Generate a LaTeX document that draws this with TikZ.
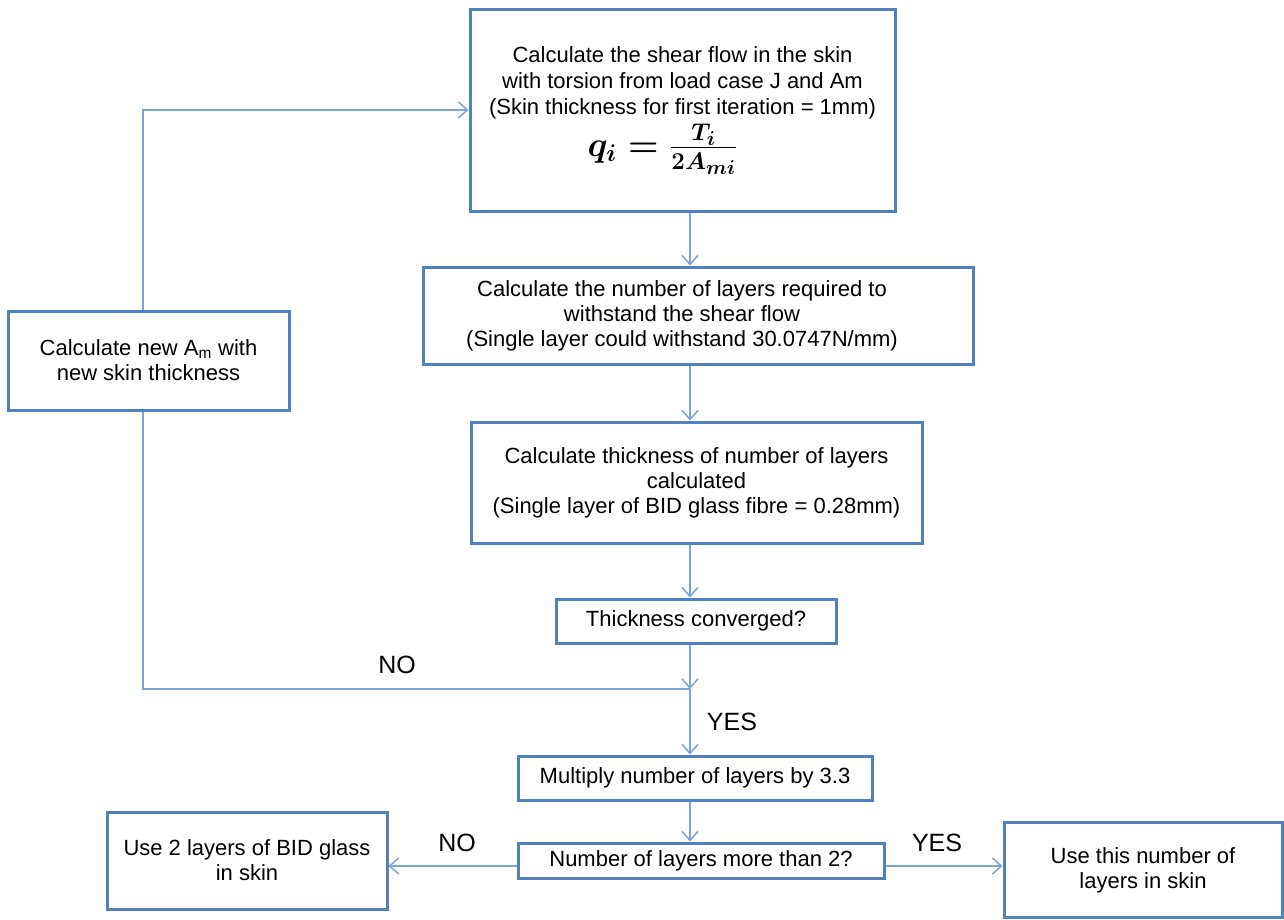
\documentclass[tikz,border=0pt]{standalone}
\usepackage{graphicx}
\usepackage{fontspec}
\setmainfont{Liberation Sans}
\usepackage{amsmath}
\usetikzlibrary{arrows.meta}
\definecolor{boxblue}{RGB}{79,129,189}
\definecolor{lineblue}{RGB}{125,162,214}
\newcommand{\qformula}{{\fontsize{27}{30}\selectfont\scalebox{1.4}{\mathversion{bold}$q_i = \frac{T_i}{2A_{mi}}$}}}
\newcommand{\sh}{\hspace*{-32pt}}
\tikzset{
  box/.style={draw=boxblue, line width=3pt, fill=white, align=center, inner sep=0pt,
    font=\fontsize{22}{25}\selectfont},
  conn/.style={draw=lineblue, line width=1.5pt},
  arr/.style={conn, -{Straight Barb[length=9pt,width=16pt,line width=1.5pt]}},
  lab/.style={font=\fontsize{25}{28}\selectfont, inner sep=0pt}
}
\begin{document}
\begin{tikzpicture}[x=1pt,y=-1pt]
\useasboundingbox (0,0) rectangle (1284,920);
% boxes
\node[box, minimum width=425, minimum height=201, font=\fontsize{22}{26}\selectfont] (top) at (682.5,110.5)
  {Calculate the shear flow in the skin\\with torsion from load case J and Am\\(Skin thickness for first iteration = 1mm)\\[4pt]\hspace*{-40pt}\qformula};
\node[box, minimum width=550, minimum height=97] (layers) at (698,315.5)
  {\sh Calculate the number of layers required to\\\sh withstand the shear flow\\\sh (Single layer could withstand 30.0747N/mm)};
\node[box, minimum width=451, minimum height=121] (thick) at (696.5,482.5)
  {Calculate thickness of number of layers\\calculated\\(Single layer of BID glass fibre = 0.28mm)};
\node[box, minimum width=280, minimum height=44] (conv) at (696,621) {Thickness converged?};
\node[box, minimum width=354, minimum height=44] (mult) at (695,778) {Multiply number of layers by 3.3};
\node[box, minimum width=366, minimum height=35] (more) at (701,860.5) {Number of layers more than 2?};
\node[box, minimum width=280, minimum height=97] (use2) at (247,860.5) {Use 2 layers of BID glass\\in skin};
\node[box, minimum width=278, minimum height=95] (usethis) at (1143,870) {Use this number of\\layers in skin};
\node[box, minimum width=281, minimum height=99] (newam) at (148.5,360.5) {Calculate new A\textsubscript{m} with\\new skin thickness};
% helper coordinates
\coordinate (cx) at (690,0);
\coordinate (j) at (690,689);
\coordinate (k) at (143,689);
\coordinate (kt) at (143,110);
\coordinate (yl) at (0,866);
% connectors
\draw[arr] (cx |- top.south) -- (cx |- layers.north);
\draw[arr] (cx |- layers.south) -- (cx |- thick.north);
\draw[arr] (cx |- thick.south) -- (cx |- conv.north);
\draw[arr] (cx |- conv.south) -- (j);
\draw[arr] (j) -- (cx |- mult.north);
\draw[arr] (cx |- mult.south) -- (cx |- more.north);
\draw[conn] (j) -- (k) -- (k |- newam.south);
\draw[arr] (kt |- newam.north) -- (kt) -- (top.west |- kt);
\draw[arr] (more.west |- yl) -- (use2.east |- yl);
\draw[arr] (more.east |- yl) -- (usethis.west |- yl);
% labels
\node[lab] (no1) at (397,665) {NO};
\node[lab] (yes1) at (732,722) {YES};
\node[lab] (no2) at (457,843) {NO};
\node[lab] (yes2) at (937,843) {YES};
\end{tikzpicture}
\end{document}
